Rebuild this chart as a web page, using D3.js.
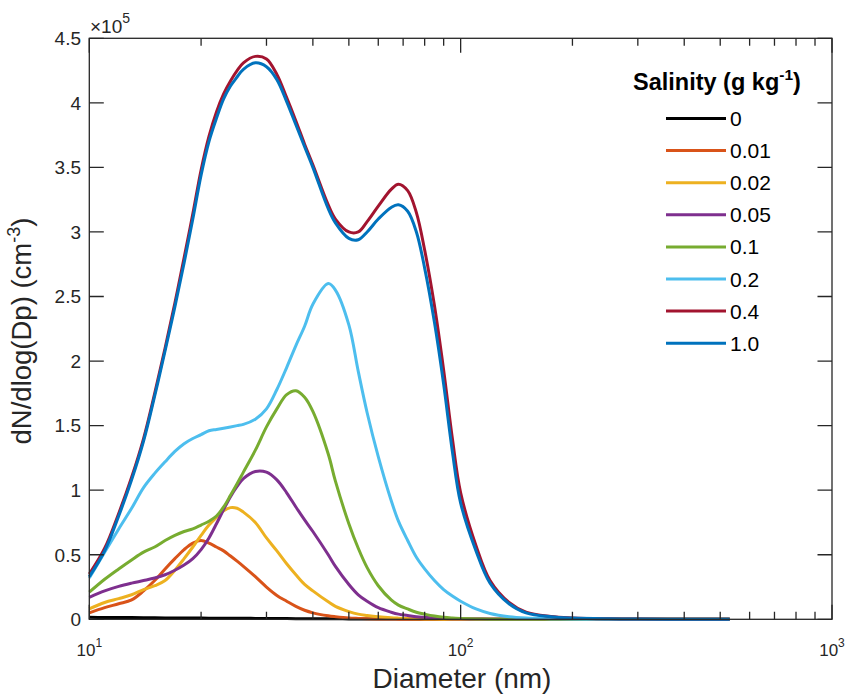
<!DOCTYPE html>
<html>
<head>
<meta charset="utf-8">
<script src="https://cdn.jsdelivr.net/npm/d3@7"></script>
<style>
  html, body { margin: 0; padding: 0; background: #fff; }
  svg { display: block; font-family: "Liberation Sans", Arial, sans-serif; }
</style>
</head>
<body>
<svg id="chart" width="851" height="698"></svg>
<script>
// ---------------- DATA (values in units of 10^5 cm^-3) ----------------
const diameters = [10,11,12,13,14,15,16,17,18,19,20,21,22,23,24,25,26,
  28,30,32,34,36,38,40,
  44,46,50,53,56,60,65,68,72,76,80,85,90,95,100,
  110,120,135,150,175,200,250,300,400,530];

const salinityLabels = ["0","0.01","0.02","0.05","0.1","0.2","0.4","1.0"];
const seriesColors = ["#000000","#D95319","#EDB120","#7E2F8E","#77AC30","#4DBEEE","#A2142F","#0072BD"];

const s0 = [.015,.014,.013,.013,.012,.012,.011,.011,.010,.010,.010,.009,.009,.009,.008,.008,.008,
  .007,.007,.006,.006,.005,.005,.005,
  .004,.004,.003,.003,.003,.002,.002,.002,.002,.001,.001,.001,.001,.001,.001,
  0,0,0,0,0,0,0,0,0,0];
const s001 = [.05,.09,.12,.15,.22,.30,.39,.47,.54,.59,.61,.59,.56,.53,.49,.45,.41,
  .33,.25,.185,.14,.10,.07,.05,
  .027,.02,.01,.007,.005,.003,.002,.001,.001,0,0,0,0,0,0,
  0,0,0,0,0,0,0,0,0,0];
const s002 = [.08,.13,.16,.19,.23,.26,.30,.38,.47,.56,.65,.73,.79,.84,.865,.86,.83,
  .75,.63,.53,.43,.345,.27,.22,
  .135,.10,.06,.04,.03,.02,.012,.009,.006,.004,.003,.002,.001,.001,0,
  0,0,0,0,0,0,0,0,0,0];
const s005 = [.17,.22,.255,.28,.30,.32,.345,.38,.42,.47,.54,.63,.74,.85,.95,1.03,1.09,
  1.145,1.14,1.08,.98,.87,.77,.68,
  .50,.41,.27,.19,.14,.09,.055,.04,.03,.02,.015,.01,.007,.005,.004,
  .002,.001,0,0,0,0,0,0,0,0];
const s01 = [.21,.31,.39,.46,.52,.56,.61,.65,.68,.70,.73,.76,.80,.87,.96,1.05,1.14,
  1.31,1.49,1.63,1.74,1.77,1.72,1.61,
  1.28,1.07,.74,.55,.40,.26,.15,.11,.08,.055,.04,.025,.015,.01,.007,
  .003,.001,0,0,0,0,0,0,0,0];
const s02 = [.32,.52,.70,.86,1.02,1.13,1.22,1.30,1.36,1.40,1.43,1.46,1.47,1.48,1.49,1.50,1.51,
  1.55,1.63,1.78,1.95,2.12,2.27,2.44,
  2.60,2.55,2.28,1.92,1.60,1.26,.92,.76,.61,.48,.39,.30,.23,.18,.14,
  .08,.045,.02,.01,.005,.002,.001,0,0,0];
const s04 = [.35,.55,.82,1.10,1.40,1.75,2.10,2.45,2.80,3.14,3.48,3.74,3.93,4.07,4.17,4.25,4.31,
  4.36,4.34,4.22,4.04,3.86,3.68,3.52,
  3.21,3.10,3.00,3.00,3.08,3.20,3.33,3.37,3.32,3.15,2.86,2.43,1.93,1.40,.98,
  .57,.30,.13,.055,.022,.011,.004,.002,.001,.001];
const s10 = [.33,.53,.80,1.08,1.38,1.73,2.08,2.42,2.76,3.10,3.44,3.70,3.88,4.03,4.13,4.20,4.26,
  4.31,4.28,4.18,4.01,3.83,3.66,3.50,
  3.18,3.07,2.95,2.94,3.00,3.10,3.19,3.21,3.16,3.00,2.72,2.30,1.82,1.30,.90,
  .53,.28,.12,.05,.02,.01,.004,.002,.001,.001];
const seriesValues = [s0, s001, s002, s005, s01, s02, s04, s10];

const yTicks = [0,0.5,1,1.5,2,2.5,3,3.5,4,4.5];
const xMajorTicks = [10,100,1000];
const xMajorExp = ["1","2","3"];
const xMinorTicks = [20,30,40,50,60,70,80,90,200,300,400,500,600,700,800,900];

// ---------------- LAYOUT ----------------
const L = 89.3, R = 832, T = 38.3, B = 619.3;
const axisColor = "#262626";
const svg = d3.select("#chart");

const x = d3.scaleLog().domain([10, 1000]).range([L, R]);
const y = d3.scaleLinear().domain([0, 4.5]).range([B, T]);

// ---------------- CURVES ----------------
const line = d3.line()
  .x(d => x(d[0]))
  .y(d => Math.min(y(d[1]), B))
  .curve(d3.curveCatmullRom.alpha(0.5));

svg.append("g").selectAll("path")
  .data(seriesValues)
  .join("path")
  .attr("fill", "none")
  .attr("stroke", (d, i) => seriesColors[i])
  .attr("stroke-width", 3)
  .attr("stroke-linejoin", "round")
  .attr("d", vals => line(diameters.map((dd, j) => [dd, vals[j]])));

// ---------------- AXES BOX & TICKS ----------------
const ax = svg.append("g").attr("stroke", axisColor).attr("stroke-width", 1.3).attr("fill", "none");
ax.append("rect").attr("x", L).attr("y", T).attr("width", R - L).attr("height", B - T);

const majorLen = 14.5, minorLen = 7.5, yLen = 14.5;
ax.selectAll(".xmaj").data(xMajorTicks).join("path")
  .attr("class", "xmaj")
  .attr("d", d => `M${x(d)},${B}V${B - majorLen}M${x(d)},${T}V${T + majorLen}`);
ax.selectAll(".xmin").data(xMinorTicks).join("path")
  .attr("class", "xmin")
  .attr("d", d => `M${x(d)},${B}V${B - minorLen}M${x(d)},${T}V${T + minorLen}`);
ax.selectAll(".yt").data(yTicks).join("path")
  .attr("class", "yt")
  .attr("d", d => `M${L},${y(d)}H${L + yLen}M${R},${y(d)}H${R - yLen}`);

// y tick labels
svg.append("g").selectAll("text").data(yTicks).join("text")
  .attr("x", 81).attr("y", d => y(d))
  .attr("dy", "0.36em")
  .attr("text-anchor", "end")
  .attr("font-size", 19)
  .attr("fill", axisColor)
  .text(d => d3.format("~g")(d));

// x tick labels 10^n
const xl = svg.append("g").selectAll("text").data(xMajorTicks).join("text")
  .attr("x", d => x(d)).attr("y", 656)
  .attr("text-anchor", "middle")
  .attr("font-size", 17)
  .attr("fill", axisColor);
xl.append("tspan").text("10");
xl.append("tspan").attr("font-size", 12).attr("dy", -9).text((d, i) => xMajorExp[i]);

// multiplier ×10^5
const mult = svg.append("text").attr("x", 90).attr("y", 33)
  .attr("font-size", 19).attr("fill", axisColor);
mult.append("tspan").text("\u00d710");
mult.append("tspan").attr("font-size", 14).attr("dy", -10).text("5");

// axis titles
svg.append("text")
  .attr("x", 462).attr("y", 688)
  .attr("text-anchor", "middle")
  .attr("font-size", 28)
  .attr("fill", axisColor)
  .text("Diameter (nm)");

const yt = svg.append("text")
  .attr("transform", "translate(31,331) rotate(-90)")
  .attr("text-anchor", "middle")
  .attr("font-size", 27.5)
  .attr("fill", axisColor);
yt.append("tspan").text("dN/dlog(Dp) (cm");
yt.append("tspan").attr("font-size", 18).attr("dy", -11).text("-3");
yt.append("tspan").attr("dy", 11).text(")");

// ---------------- LEGEND ----------------
const lg = svg.append("g");
const lt = lg.append("text").attr("x", 633).attr("y", 90)
  .attr("font-size", 23.5).attr("font-weight", "bold").attr("fill", "#000");
lt.append("tspan").text("Salinity (g kg");
lt.append("tspan").attr("font-size", 15.5).attr("dy", -10).text("-1");
lt.append("tspan").attr("dy", 10).text(")");

const ly0 = 118.5, lstep = 32.1;
const items = lg.selectAll(".li").data(salinityLabels).join("g").attr("class", "li");
items.append("line")
  .attr("x1", 666).attr("x2", 726)
  .attr("y1", (d, i) => ly0 + i * lstep).attr("y2", (d, i) => ly0 + i * lstep)
  .attr("stroke", (d, i) => seriesColors[i]).attr("stroke-width", 3);
items.append("text")
  .attr("x", 730).attr("y", (d, i) => ly0 + i * lstep)
  .attr("dy", "0.36em")
  .attr("font-size", 21).attr("fill", "#000")
  .text(d => d);
</script>
</body>
</html>
